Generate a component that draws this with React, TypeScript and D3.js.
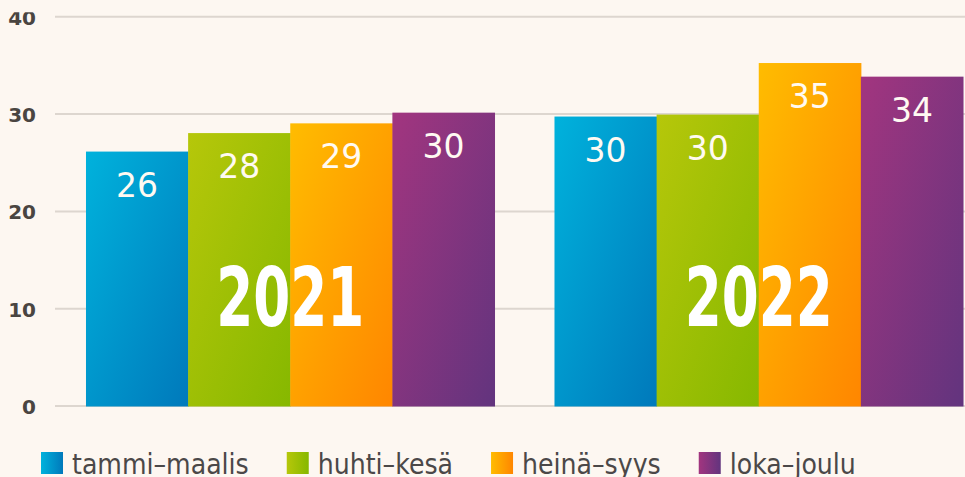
import React, { useEffect, useRef } from "react";
import * as d3 from "d3";

const years = ["2021", "2022"];
const quarters = ["tammi–maalis", "huhti–kesä", "heinä–syys", "loka–joulu"];
const values2021 = [26.2, 28.1, 29.1, 30.2];
const values2022 = [29.8, 30.0, 35.3, 33.9];
const yTicks = [0, 10, 20, 30, 40];

const barColors = [
  ["#00b2dc", "#0079bb"],
  ["#b6c70a", "#86b800"],
  ["#ffbc00", "#ff8600"],
  ["#a2357f", "#62347e"],
];

const W = 965;
const H = 477;
const BG = "#fdf7f1";

export default function App() {
  const ref = useRef<SVGSVGElement>(null);

  useEffect(() => {
    const svg = d3.select(ref.current as SVGSVGElement);
    svg.selectAll("*").remove();

    const series: Record<string, number[]> = { "2021": values2021, "2022": values2022 };

    const y = d3.scaleLinear().domain([0, 40]).range([406.5, 17.3]);
    const x0 = d3
      .scaleBand<string>()
      .domain(years)
      .range([56, 993])
      .paddingInner(0.128)
      .paddingOuter(0.064);
    const x1 = d3.scaleBand<string>().domain(quarters).range([0, x0.bandwidth()]).padding(0);

    const defs = svg.append("defs");
    barColors.forEach((c, i) => {
      const g = defs
        .append("linearGradient")
        .attr("id", `bar${i}`)
        .attr("x1", 0)
        .attr("y1", 0)
        .attr("x2", 1)
        .attr("y2", 1);
      g.append("stop").attr("offset", "0%").attr("stop-color", c[0]);
      g.append("stop").attr("offset", "100%").attr("stop-color", c[1]);
      const l = defs
        .append("linearGradient")
        .attr("id", `leg${i}`)
        .attr("x1", 0)
        .attr("y1", 0)
        .attr("x2", 1)
        .attr("y2", 0);
      l.append("stop").attr("offset", "0%").attr("stop-color", c[0]);
      l.append("stop").attr("offset", "100%").attr("stop-color", c[1]);
    });
    defs
      .append("clipPath")
      .attr("id", "tickclip")
      .append("rect")
      .attr("x", 0)
      .attr("y", 12.3)
      .attr("width", 60)
      .attr("height", H);

    svg.append("rect").attr("width", W).attr("height", H).attr("fill", BG);

    // gridlines
    svg
      .append("g")
      .selectAll("line")
      .data(yTicks)
      .join("line")
      .attr("x1", 55)
      .attr("x2", W)
      .attr("y1", (d) => y(d) - 0.5)
      .attr("y2", (d) => y(d) - 0.5)
      .attr("stroke", "#ddd6cf")
      .attr("stroke-width", 2);

    // tick labels
    svg
      .append("g")
      .attr("clip-path", "url(#tickclip)")
      .selectAll("text")
      .data(yTicks)
      .join("text")
      .attr("x", 36)
      .attr("y", (d) => y(d) + 7.5)
      .attr("text-anchor", "end")
      .attr("font-family", "'DejaVu Sans', sans-serif")
      .attr("font-weight", "bold")
      .attr("font-size", 20)
      .attr("fill", "#4a4541")
      .text((d) => String(d));

    // bars
    years.forEach((yr) => {
      const g = svg.append("g").attr("transform", `translate(${x0(yr)},0)`);
      const vals = series[yr];
      g.selectAll("rect")
        .data(vals)
        .join("rect")
        .attr("x", (_d, i) => x1(quarters[i]) as number)
        .attr("y", (d) => y(d))
        .attr("width", x1.bandwidth() + 0.5)
        .attr("height", (d) => y(0) - y(d))
        .attr("fill", (_d, i) => `url(#bar${i})`);
      g.selectAll("text.val")
        .data(vals)
        .join("text")
        .attr("class", "val")
        .attr("x", (_d, i) => (x1(quarters[i]) as number) + x1.bandwidth() / 2)
        .attr("y", (d) => y(d) + 45)
        .attr("text-anchor", "middle")
        .attr("font-family", "'DejaVu Sans', sans-serif")
        .attr("font-size", 33)
        .attr("fill", "#fffaf2")
        .text((d) => String(Math.round(d)));
      g.append("text")
        .attr("x", x0.bandwidth() / 2)
        .attr("y", 326)
        .attr("text-anchor", "middle")
        .attr("font-family", "'DejaVu Sans Condensed', 'DejaVu Sans', sans-serif")
        .attr("font-weight", "bold")
        .attr("font-size", 82)
        .attr("textLength", 148)
        .attr("lengthAdjust", "spacingAndGlyphs")
        .attr("fill", "#ffffff")
        .text(yr);
    });

    // legend
    const leg = svg.append("g");
    let lx = 41;
    const sx = 0.87;
    quarters.forEach((q, i) => {
      leg
        .append("rect")
        .attr("x", lx)
        .attr("y", 452)
        .attr("width", 22)
        .attr("height", 22)
        .attr("fill", `url(#leg${i})`);
      const t = leg
        .append("text")
        .attr("transform", `translate(${lx + 31},474) scale(${sx},1)`)
        .attr("font-family", "'DejaVu Sans', sans-serif")
        .attr("font-size", 29)
        .attr("fill", "#4b4848")
        .text(q);
      const w = (t.node() as SVGTextElement).getComputedTextLength() * sx;
      lx = lx + 31 + w + 38;
    });
  }, []);

  return (
    <svg
      ref={ref}
      width={W}
      height={H}
      style={{ position: "absolute", left: 0, top: 0, display: "block" }}
    />
  );
}
